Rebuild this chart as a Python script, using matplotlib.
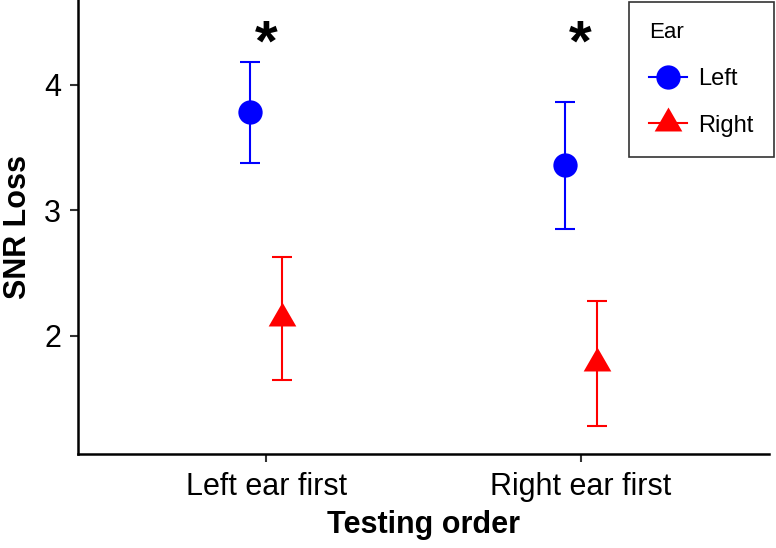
import numpy as np
import matplotlib
matplotlib.use("Agg")
import matplotlib.pyplot as plt
from matplotlib.lines import Line2D

plt.rcParams['font.family'] = ['Liberation Sans', 'DejaVu Sans']

orders = ["Left ear first", "Right ear first"]
ears = ["Left", "Right"]
left_mean = [3.78, 3.36]
left_lo = [3.38, 2.85]
left_hi = [4.18, 3.86]
right_mean = [2.14, 1.78]
right_lo = [1.65, 1.28]
right_hi = [2.63, 2.28]
star_y = [4.19, 4.19]

tri = [(0, 1), (-0.866, -0.5), (0.866, -0.5), (0, 1)]

fig = plt.figure(figsize=(7.76, 5.48), dpi=100)
ax = fig.add_axes([78/776, (548-454)/548, (769-78)/776, 454/548])

x = np.arange(1, len(orders)+1)
dodge = 0.051

def draw(xs, mean, lo, hi, color, marker, ms):
    mean = np.array(mean); lo = np.array(lo); hi = np.array(hi)
    ax.errorbar(xs, mean, yerr=[mean-lo, hi-mean], fmt='none', ecolor=color,
                elinewidth=1.5, capsize=7.5, capthick=1.5)
    ax.plot(xs, mean, linestyle='none', marker=marker, markersize=ms,
            color=color, markeredgewidth=0)

draw(x-dodge, left_mean, left_lo, left_hi, 'blue', 'o', 17.5)
draw(x+dodge, right_mean, right_lo, right_hi, 'red', tri, 23)

for xi, yi in zip(x, star_y):
    ax.text(xi, yi, "*", ha='center', va='baseline', fontsize=42, fontweight='bold')

ax.set_xlim(0.4, 2.6)
ax.set_ylim(1.057, 4.675)
ax.set_xticks(x)
ax.set_xticklabels(orders)
ax.set_yticks([2, 3, 4])
ax.tick_params(labelsize=22, length=6, width=1.5, color='#333333')
ax.tick_params(axis='x', pad=7)
ax.tick_params(axis='y', pad=6)
for s in ['top', 'right']:
    ax.spines[s].set_visible(False)
for s in ['left', 'bottom']:
    ax.spines[s].set_linewidth(1.8)
ax.set_xlabel("Testing order", fontsize=22, fontweight='bold', labelpad=6)
ax.set_ylabel("SNR Loss", fontsize=22, fontweight='bold', labelpad=8)

handles = [
    Line2D([], [], color='blue', marker='o', markersize=17.5, linewidth=1.5, markeredgewidth=0),
    Line2D([], [], color='red', marker=tri, markersize=23, linewidth=1.5, markeredgewidth=0),
]
leg = fig.legend(handles, ears, title="Ear", loc='upper right',
                 bbox_to_anchor=(774/776, 1-2/548), fontsize=17, title_fontsize=16,
                 frameon=True, fancybox=False, edgecolor='black', handlelength=1.6,
                 labelspacing=1.05, borderpad=0.85, handletextpad=0.5, borderaxespad=0)
leg.get_frame().set_linewidth(1.2)
leg._legend_box.align = "left"

fig.savefig("out.png", dpi=100)
